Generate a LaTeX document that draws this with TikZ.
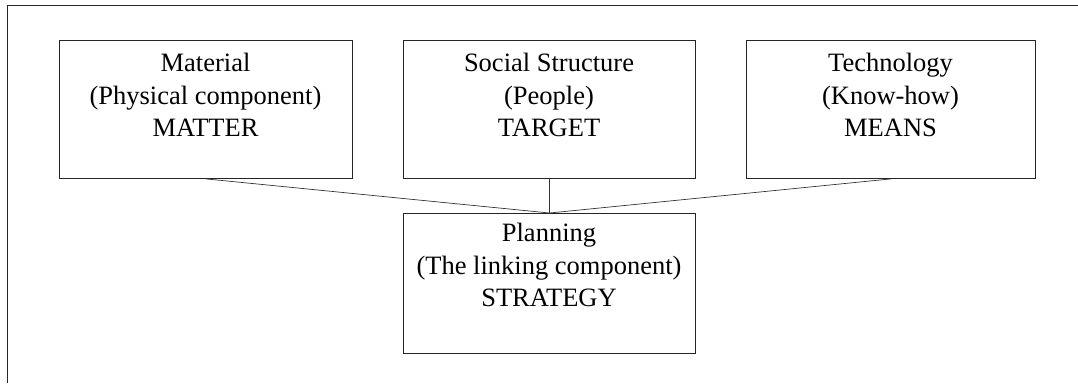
\documentclass[tikz,border=0pt]{standalone}
\usepackage{fontspec}
\setmainfont{Liberation Serif}
\begin{document}
\begin{tikzpicture}[x=1pt,y=-1pt,
  frame/.style={line width=0.9pt, draw=black!85},
  box/.style={draw=black!85, line width=0.9pt, inner sep=0pt, anchor=north west},
  txt/.style={align=center, inner sep=0pt, font=\fontsize{26.5pt}{32.5pt}\selectfont},
  link/.style={draw=black!80, line width=0.7pt}]
\useasboundingbox (0,0) rectangle (1078,383);

% outer frame (top and left edges)
\coordinate (ftl) at (7,5);
\coordinate (ftr) at (1078,5);
\coordinate (fbl) at (7,383);
\draw[frame] (fbl) -- (ftl) -- (ftr);

% component boxes
\node[box, minimum width=293pt, minimum height=138pt] (mat) at (59,40) {};
\node[box, minimum width=292pt, minimum height=138pt] (soc) at (403,40) {};
\node[box, minimum width=289pt, minimum height=138pt] (tec) at (746,40) {};
\node[box, minimum width=292pt, minimum height=140pt] (pla) at (403,213) {};

% box texts
\node[txt] (matt) at (205.5,95) {Material\\(Physical component)\\MATTER};
\node[txt] (soct) at (549,95) {Social Structure\\(People)\\TARGET};
\node[txt] (tect) at (890.5,95) {Technology\\(Know-how)\\MEANS};
\node[txt] (plat) at (549,265) {Planning\\(The linking component)\\STRATEGY};

% connectors into the planning box
\draw[link] (mat.south) -- (pla.north);
\draw[link] (soc.south) -- (pla.north);
\draw[link] (tec.south) -- (pla.north);
\end{tikzpicture}
\end{document}
